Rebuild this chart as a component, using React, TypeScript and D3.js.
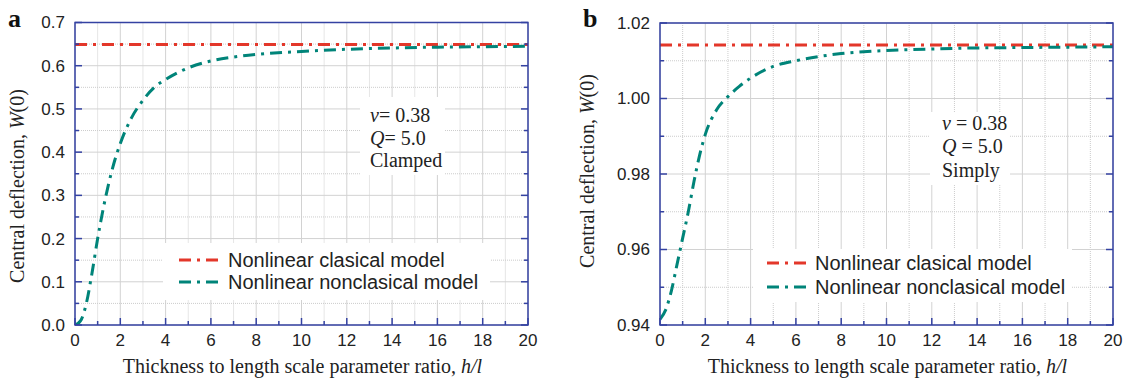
import React from "react";
import * as d3 from "d3";

// ---------- data ----------
const xsA = [0, 0.25, 0.5, 0.75, 1.0, 1.25, 1.5, 1.75, 2.0, 2.5, 3.0, 3.5, 4.0, 5.0, 6.0, 7.0, 8.0, 10, 12, 14, 16, 18, 20];
const nonclassicalA = [0, 0.01, 0.05, 0.12, 0.2, 0.27, 0.33, 0.38, 0.42, 0.48, 0.52, 0.55, 0.568, 0.595, 0.611, 0.62, 0.626, 0.633, 0.638, 0.641, 0.643, 0.644, 0.645];
const classicalA = 0.649;

const xsB = [0, 0.25, 0.5, 0.75, 1.0, 1.25, 1.5, 1.75, 2.0, 2.5, 3.0, 3.5, 4.0, 5.0, 6.0, 7.0, 8.0, 10, 12, 14, 16, 18, 20];
const nonclassicalB = [0.9415, 0.944, 0.949, 0.956, 0.963, 0.97, 0.978, 0.985, 0.9905, 0.997, 1.0005, 1.0032, 1.0054, 1.0085, 1.01, 1.0111, 1.0119, 1.0127, 1.0131, 1.0134, 1.0135, 1.0136, 1.0137];
const classicalB = 1.0142;

const xTickLabels = [0, 2, 4, 6, 8, 10, 12, 14, 16, 18, 20];
const yTicksA = [0, 0.1, 0.2, 0.3, 0.4, 0.5, 0.6, 0.7];
const yTicksB = [0.94, 0.96, 0.98, 1.0, 1.02];
const legendLabels = ["Nonlinear clasical model", "Nonlinear nonclasical model"];

const RED = "#e3372a";
const TEAL = "#008479";
const AXIS = "#3442a2";
const DASH = "12,6,3,6";

type PanelProps = {
  id: string;
  letter: string;
  left: number; right: number; top: number; bottom: number;
  yDomain: [number, number];
  yTicks: number[];
  yMinorStep: number;
  yFmt: (v: number) => string;
  xs: number[];
  ys: number[];
  classical: number;
  letterX: number;
  yTitleX: number; yTitleY: number;
  legend: { x0: number; y0: number; x1: number; y1: number; sx0: number; sx1: number; ly: number[]; tx: number };
  ann: { x0: number; y0: number; x1: number; y1: number; tx: number; ty: number[]; lines: React.ReactNode[] };
};

function Panel(p: PanelProps) {
  const x = d3.scaleLinear().domain([0, 20]).range([p.left, p.right]);
  const y = d3.scaleLinear().domain(p.yDomain).range([p.bottom, p.top]);
  const xMinor = d3.range(0, 20.001, 1);
  const nMinorY = Math.round((p.yDomain[1] - p.yDomain[0]) / p.yMinorStep);
  const yMinor = d3.range(0, nMinorY + 1).map((i) => p.yDomain[0] + i * p.yMinorStep);
  const line = d3.line<number>().x((_, i) => x(p.xs[i])).y((d) => y(d)).curve(d3.curveMonotoneX);
  const clip = `clip-${p.id}`;
  return (
    <g>
      <defs>
        <clipPath id={clip}>
          <rect x={p.left} y={p.top} width={p.right - p.left} height={p.bottom - p.top} />
        </clipPath>
      </defs>
      {/* grid */}
      {xMinor.map((v, i) => (
        <line key={"gx" + i} x1={x(v)} x2={x(v)} y1={p.top} y2={p.bottom}
          stroke={i % 2 === 0 ? "#d2d2d2" : "#cccccc"} strokeWidth={1}
          strokeDasharray={i % 2 === 0 ? undefined : "1,1"} />
      ))}
      {yMinor.map((v, i) => (
        <line key={"gy" + i} x1={p.left} x2={p.right} y1={y(v)} y2={y(v)}
          stroke={i % 2 === 0 ? "#d2d2d2" : "#cccccc"} strokeWidth={1}
          strokeDasharray={i % 2 === 0 ? undefined : "1,1"} />
      ))}
      {/* annotation box */}
      <rect x={p.ann.x0} y={p.ann.y0} width={p.ann.x1 - p.ann.x0} height={p.ann.y1 - p.ann.y0} fill="white" />
      {p.ann.lines.map((l, i) => (
        <text key={"an" + i} x={p.ann.tx} y={p.ann.ty[i]} fontFamily="'Liberation Serif', serif" fontSize={20} fill="#222">{l}</text>
      ))}
      {/* legend box */}
      <rect x={p.legend.x0} y={p.legend.y0} width={p.legend.x1 - p.legend.x0} height={p.legend.y1 - p.legend.y0} fill="white" />
      {/* data */}
      <g clipPath={`url(#${clip})`}>
        <line x1={x(0)} x2={x(20)} y1={y(p.classical)} y2={y(p.classical)} stroke={RED} strokeWidth={3} strokeDasharray={DASH} />
        <path d={line(p.ys) || ""} fill="none" stroke={TEAL} strokeWidth={3} strokeDasharray={DASH} />
      </g>
      {/* legend */}
      {[RED, TEAL].map((c, i) => (
        <g key={"lg" + i}>
          <line x1={p.legend.sx0} x2={p.legend.sx1} y1={p.legend.ly[i]} y2={p.legend.ly[i]} stroke={c} strokeWidth={3} strokeDasharray={DASH} />
          <text x={p.legend.tx} y={p.legend.ly[i]} dy="0.35em" fontFamily="'Liberation Sans', Arial, sans-serif" fontSize={20} fill="#222">{legendLabels[i]}</text>
        </g>
      ))}
      {/* frame */}
      <rect x={p.left} y={p.top} width={p.right - p.left} height={p.bottom - p.top} fill="none" stroke={AXIS} strokeWidth={1.5} />
      {/* ticks */}
      {xMinor.map((v, i) => (
        <line key={"tx" + i} x1={x(v)} x2={x(v)} y1={p.bottom} y2={p.bottom - (i % 2 === 0 ? 7 : 4)} stroke={AXIS} strokeWidth={1.5} />
      ))}
      {yMinor.map((v, i) => (
        <g key={"ty" + i}>
          <line x1={p.left} x2={p.left + (i % 2 === 0 ? 7 : 4)} y1={y(v)} y2={y(v)} stroke={AXIS} strokeWidth={1.5} />
          <line x1={p.right} x2={p.right - (i % 2 === 0 ? 7 : 4)} y1={y(v)} y2={y(v)} stroke={AXIS} strokeWidth={1.5} />
        </g>
      ))}
      {/* tick labels */}
      {xTickLabels.map((v) => (
        <text key={"xl" + v} x={x(v)} y={346} textAnchor="middle" fontFamily="'Liberation Sans', Arial, sans-serif" fontSize={17} fill="#222">{v}</text>
      ))}
      {p.yTicks.map((v) => (
        <text key={"yl" + v} x={p.left - 10} y={y(v)} dy="0.35em" textAnchor="end" fontFamily="'Liberation Sans', Arial, sans-serif" fontSize={17} fill="#222">{p.yFmt(v)}</text>
      ))}
      {/* titles */}
      <text x={(p.left + p.right) / 2 + 1} y={373} textAnchor="middle" fontFamily="'Liberation Serif', serif" fontSize={20} fill="#222">
        Thickness to length scale parameter ratio, <tspan fontStyle="italic">h/l</tspan>
      </text>
      <text transform={`translate(${p.yTitleX},${p.yTitleY}) rotate(-90)`} textAnchor="middle" fontFamily="'Liberation Serif', serif" fontSize={20} fill="#222">
        Central deflection, <tspan fontStyle="italic">W</tspan>(0)
      </text>
      <text x={p.letterX} y={26.5} fontFamily="'Liberation Serif', serif" fontWeight="bold" fontSize={26} fill="#111">{p.letter}</text>
    </g>
  );
}

export default function App() {
  return (
    <svg width={1126} height={384} style={{ position: "absolute", left: 0, top: 0, background: "white" }}>
      <rect width={1126} height={384} fill="white" />
      <Panel
        id="a" letter="a" left={75} right={528} top={22.5} bottom={325}
        yDomain={[0, 0.7]} yTicks={yTicksA} yMinorStep={0.05} yFmt={(v) => v.toFixed(1)}
        xs={xsA} ys={nonclassicalA} classical={classicalA}
        letterX={8} yTitleX={24} yTitleY={186}
        legend={{ x0: 163, y0: 243, x1: 490, y1: 300, sx0: 179, sx1: 223, ly: [260, 282], tx: 228 }}
        ann={{ x0: 360, y0: 97, x1: 445, y1: 175, tx: 370, ty: [122, 145, 167],
          lines: [
            <><tspan fontStyle="italic">ν</tspan>= 0.38</>,
            <><tspan fontStyle="italic">Q</tspan>= 5.0</>,
            <>Clamped</>,
          ] }}
      />
      <Panel
        id="b" letter="b" left={660} right={1113} top={23} bottom={325}
        yDomain={[0.94, 1.02]} yTicks={yTicksB} yMinorStep={0.01} yFmt={(v) => v.toFixed(2)}
        xs={xsB} ys={nonclassicalB} classical={classicalB}
        letterX={583} yTitleX={594} yTitleY={171}
        legend={{ x0: 753, y0: 249, x1: 1072, y1: 302, sx0: 767, sx1: 809, ly: [263, 287], tx: 815 }}
        ann={{ x0: 930, y0: 112, x1: 1010, y1: 185, tx: 942, ty: [130, 153, 177],
          lines: [
            <><tspan fontStyle="italic">ν</tspan> = 0.38</>,
            <><tspan fontStyle="italic">Q</tspan> = 5.0</>,
            <>Simply</>,
          ] }}
      />
    </svg>
  );
}
